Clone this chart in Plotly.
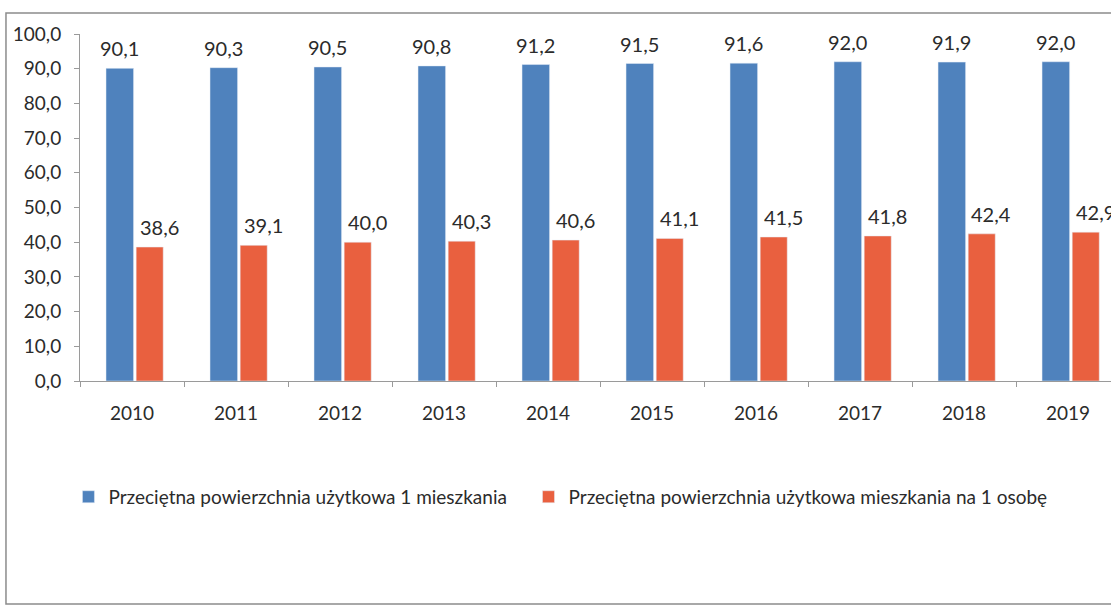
import plotly.graph_objects as go

years = ["2010", "2011", "2012", "2013", "2014", "2015", "2016", "2017", "2018", "2019"]
avg_per_dwelling = [90.1, 90.3, 90.5, 90.8, 91.2, 91.5, 91.6, 92.0, 91.9, 92.0]
avg_per_person = [38.6, 39.1, 40.0, 40.3, 40.6, 41.1, 41.5, 41.8, 42.4, 42.9]
name_dwelling = "Przeciętna powierzchnia użytkowa 1 mieszkania"
name_person = "Przeciętna powierzchnia użytkowa mieszkania na 1 osobę"

BLUE = "#4f82bd"
RED = "#e9603f"
FONT = "Lato"
TXT = "#2b2b2b"
FS = 19

def fmt(v):
    return f"{v:.1f}".replace(".", ",")

fig = go.Figure()
fig.add_trace(go.Bar(x=years, y=avg_per_dwelling, name=name_dwelling, marker_color=BLUE,
                     offset=-0.25, width=0.265, legend="legend"))
fig.add_trace(go.Bar(x=years, y=avg_per_person, name=name_person, marker_color=RED,
                     offset=0.04, width=0.26, legend="legend2"))

for i, v in enumerate(avg_per_dwelling):
    fig.add_annotation(x=i, y=v, text=fmt(v), showarrow=False, xshift=-13, yshift=20,
                       yanchor="middle", font=dict(family=FONT, size=20, color=TXT))
for i, v in enumerate(avg_per_person):
    fig.add_annotation(x=i, y=v, text=fmt(v), showarrow=False, xshift=27, yshift=20,
                       yanchor="middle", font=dict(family=FONT, size=20, color=TXT))

fig.add_shape(type="rect", xref="paper", yref="paper",
              x0=-0.0718, x1=1.05, y0=-0.643, y1=1.0605,
              line=dict(color="#8c8c8c", width=1.5), fillcolor="rgba(0,0,0,0)", layer="below")

leg_common = dict(orientation="h", xanchor="left", y=-0.334, yanchor="middle",
                  font=dict(family=FONT, size=FS, color=TXT), itemwidth=30,
                  bgcolor="rgba(0,0,0,0)")

fig.update_layout(
    width=1111, height=608,
    margin=dict(l=80, r=0, t=34, b=227),
    paper_bgcolor="white", plot_bgcolor="white",
    barmode="overlay",
    separators=", ",
    font=dict(family=FONT, size=FS, color=TXT),
    showlegend=True,
    legend=dict(x=-0.0112, **leg_common),
    legend2=dict(x=0.435, **leg_common),
    xaxis=dict(type="category", range=[-0.5, 9.413], showline=True, linecolor="#9a9a9a",
               linewidth=1, ticks="outside", tickson="boundaries", ticklen=5,
               tickcolor="#9a9a9a", showgrid=False, ticklabelstandoff=15,
               tickfont=dict(family=FONT, size=FS, color=TXT)),
    yaxis=dict(range=[0, 100], dtick=10, tickformat=".1f", showline=True,
               linecolor="#9a9a9a", linewidth=1, ticks="outside", ticklen=5,
               tickcolor="#9a9a9a", showgrid=False, zeroline=False, ticklabelstandoff=9,
               tickfont=dict(family=FONT, size=FS, color=TXT)),
)

fig.write_html("out.html", config={"displayModeBar": False},
               post_script="document.body.style.margin='0';document.body.style.overflow='hidden';")
